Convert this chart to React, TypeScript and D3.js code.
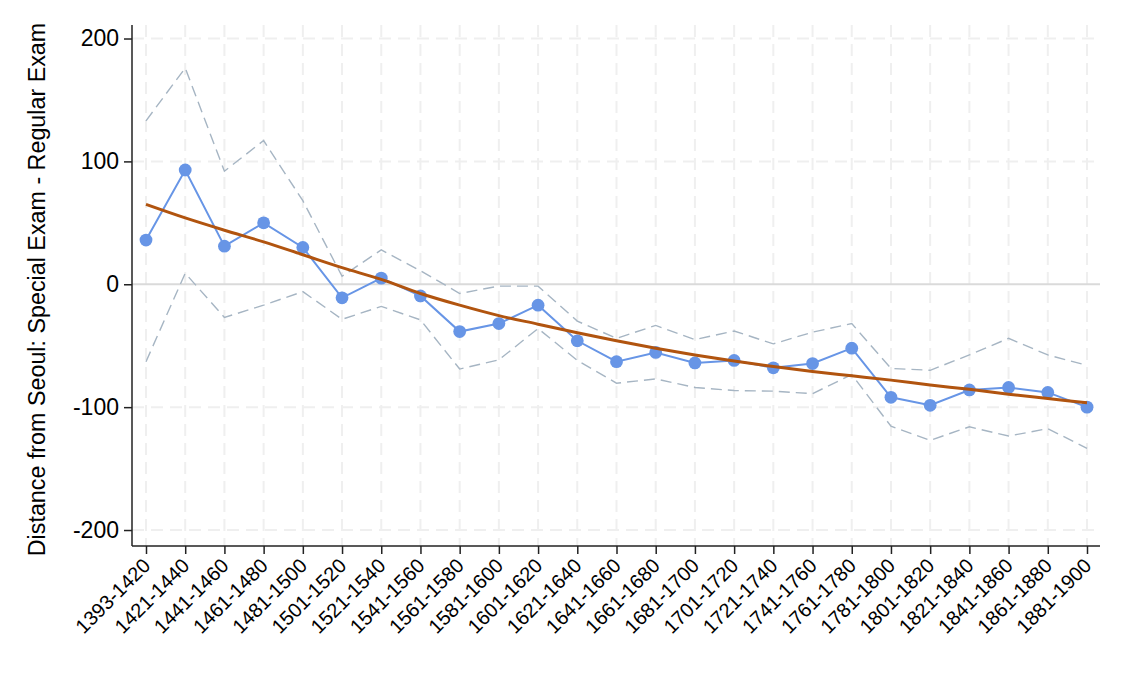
import * as d3 from 'd3';
import React, { useRef, useEffect } from 'react';

const W = 1125;
const H = 675;

const margin = { top: 25, left: 132, right: 25, bottom: 129 };

const periods = [
  '1393-1420', '1421-1440', '1441-1460', '1461-1480', '1481-1500',
  '1501-1520', '1521-1540', '1541-1560', '1561-1580', '1581-1600',
  '1601-1620', '1621-1640', '1641-1660', '1661-1680', '1681-1700',
  '1701-1720', '1721-1740', '1741-1760', '1761-1780', '1781-1800',
  '1801-1820', '1821-1840', '1841-1860', '1861-1880', '1881-1900',
];

// point estimates (blue)
const estimate = [
  36, 93, 31, 50, 30, -11, 5, -9.5, -38.5, -32, -17, -46, -63, -55.5, -64,
  -62, -68, -64.5, -52, -92, -98.5, -86, -84, -88, -100,
];

// confidence bounds (dashed)
const upper = [
  133, 176, 92, 117, 68, 6.5, 28, 11, -7.5, -1.5, -1.5, -30, -44, -33.5, -45,
  -38, -48.5, -39, -32, -68.5, -70, -57.5, -44, -57.5, -66,
];
const lower = [
  -63, 9, -27, -17, -6, -28.5, -18, -29, -69, -61.5, -36, -62, -80.5, -77,
  -84, -86.5, -87, -89, -73.5, -115.5, -127, -116, -123.5, -117.5, -133.5,
];

// fitted trend (orange)
const trend = [
  65, 54, 44, 34.5, 24, 13.5, 4, -7.5, -17, -25.5, -32.5, -39.5, -46, -52,
  -57.5, -62.5, -67, -71, -74.5, -78, -82, -85.5, -89.5, -93, -96.5,
];

const yTicks = [200, 100, 0, -100, -200];

const font = 'Liberation Sans, Arial, Helvetica, sans-serif';

const App = () => {
  const ref = useRef<SVGSVGElement>(null);

  useEffect(() => {
    document.body.style.margin = '0';
    const svg = d3.select(ref.current);
    svg.selectAll('*').remove();

    const left = margin.left;
    const right = W - margin.right;
    const top = margin.top;
    const bottom = H - margin.bottom;

    const x = d3.scalePoint<string>().domain(periods).range([146, 1087]);
    const y = d3.scaleLinear().domain([-213, 211]).range([bottom, top]);

    const g = svg.append('g');

    // vertical grid
    g.selectAll('.vgrid')
      .data(periods)
      .join('line')
      .attr('x1', (d) => x(d)!)
      .attr('x2', (d) => x(d)!)
      .attr('y1', top)
      .attr('y2', bottom)
      .attr('stroke', '#efefef')
      .attr('stroke-width', 2)
      .attr('stroke-dasharray', '12,7');

    // horizontal grid
    g.selectAll('.hgrid')
      .data(yTicks.filter((t) => t !== 0))
      .join('line')
      .attr('x1', left)
      .attr('x2', right - 3)
      .attr('y1', (d) => y(d))
      .attr('y2', (d) => y(d))
      .attr('stroke', '#efefef')
      .attr('stroke-width', 2)
      .attr('stroke-dasharray', '12,7');

    g.append('line')
      .attr('x1', left)
      .attr('x2', right)
      .attr('y1', y(0))
      .attr('y2', y(0))
      .attr('stroke', '#dadada')
      .attr('stroke-width', 2);

    const line = (vals: number[]) =>
      d3
        .line<number>()
        .x((_, i) => x(periods[i])!)
        .y((d) => y(d))(vals);

    [upper, lower].forEach((band) => {
      g.append('path')
        .attr('d', line(band))
        .attr('fill', 'none')
        .attr('stroke', '#a6b5c3')
        .attr('stroke-width', 1.4)
        .attr('stroke-dasharray', '11,6');
    });

    g.append('path')
      .attr('d', line(estimate))
      .attr('fill', 'none')
      .attr('stroke', '#6795e6')
      .attr('stroke-width', 2);

    g.selectAll('.pt')
      .data(estimate)
      .join('circle')
      .attr('cx', (_, i) => x(periods[i])!)
      .attr('cy', (d) => y(d))
      .attr('r', 6.4)
      .attr('fill', '#6795e6');

    g.append('path')
      .attr(
        'd',
        d3
          .line<number>()
          .x((_, i) => x(periods[i])!)
          .y((d) => y(d))
          .curve(d3.curveMonotoneX)(trend)
      )
      .attr('fill', 'none')
      .attr('stroke', '#b1540f')
      .attr('stroke-width', 3);

    // y axis
    const yAxis = d3
      .axisLeft(y)
      .tickValues(yTicks)
      .tickFormat((d) => String(d))
      .tickSize(8)
      .tickPadding(5);
    const ya = svg
      .append('g')
      .attr('transform', `translate(${left},0)`)
      .call(yAxis);
    ya.select('.domain').attr('d', `M0,${top}V${bottom}`).attr('stroke', '#222').attr('stroke-width', 1.5);
    ya.selectAll('.tick line').attr('stroke', '#222').attr('stroke-width', 1.5);
    ya.selectAll('.tick text')
      .attr('font-family', font)
      .attr('font-size', 23)
      .attr('fill', '#000');

    // x axis
    const xAxis = d3.axisBottom(x).tickSize(8).tickPadding(0);
    const xa = svg
      .append('g')
      .attr('transform', `translate(0,${bottom})`)
      .call(xAxis);
    xa.select('.domain').attr('d', `M${left},0H${right}`).attr('stroke', '#222').attr('stroke-width', 1.5);
    xa.selectAll('.tick line').attr('stroke', '#222').attr('stroke-width', 1.5);
    xa.selectAll('.tick text')
      .attr('font-family', font)
      .attr('font-size', 20)
      .attr('fill', '#000')
      .attr('text-anchor', 'end')
      .attr('x', 0)
      .attr('y', 0)
      .attr('dy', 0)
      .attr('transform', 'translate(5,21) rotate(-45)');

    svg
      .append('text')
      .attr('transform', `translate(45,${(27 + 552) / 2}) rotate(-90)`)
      .attr('text-anchor', 'middle')
      .attr('font-family', font)
      .attr('font-size', 23.3)
      .attr('fill', '#000')
      .text('Distance from Seoul: Special Exam - Regular Exam');
  }, []);

  return <svg ref={ref} width={W} height={H} style={{ display: 'block', background: '#fff' }} />;
};

export default App;
